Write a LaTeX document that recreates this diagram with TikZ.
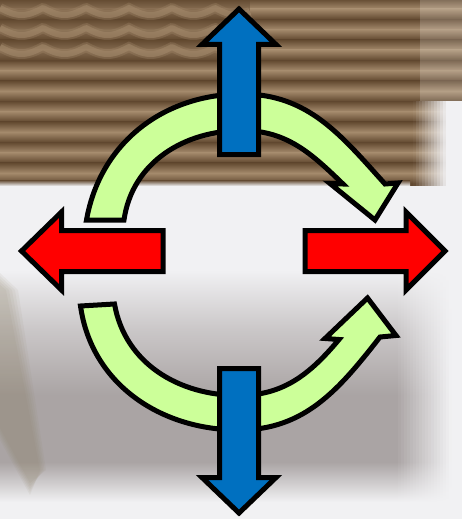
\documentclass[tikz,border=0pt]{standalone}
\usetikzlibrary{calc}
\definecolor{grn}{RGB}{204,255,153}
\definecolor{blu}{RGB}{0,112,192}
\definecolor{rd}{RGB}{255,0,0}
\definecolor{brL}{RGB}{164,138,108}
\definecolor{brD}{RGB}{98,73,48}
\definecolor{bgW}{RGB}{241,241,243}
\definecolor{bgG}{RGB}{170,164,164}
\definecolor{streak}{RGB}{135,122,92}
\begin{document}
\begin{tikzpicture}[x=1pt,y=1pt,
  shapeline/.style={draw=black,line width=5pt,line join=miter,miter limit=20},
  greenarrow/.style={shapeline,fill=grn},
  bluearrow/.style={shapeline,fill=blu},
  redarrow/.style={shapeline,fill=rd}]
\useasboundingbox (0,0) rectangle (462,-519);
% ---------- background: white / grey lower part ----------
\fill[bgW] (0,-180) rectangle (462,-519);
\colorlet{cmid}{bgG!55!bgW}
\shade[top color=bgW,bottom color=cmid] (0,-270) rectangle (396,-330);
\shade[top color=cmid,bottom color=bgG] (0,-330) rectangle (396,-395);
\fill[bgG] (0,-395) rectangle (396,-462);
\shade[top color=bgG,bottom color=bgW] (0,-462) rectangle (396,-502);
\foreach \x in {395,398,...,452} {
  \pgfmathsetmacro\f{max(0,min(100,(450-\x)/55*100))}
  \colorlet{cg}{bgG!\f!bgW}
  \colorlet{cm}{bgG!\f!bgW!55!bgW}
  \shade[top color=bgW,bottom color=cm] (\x,-270) rectangle (\x+3.4,-330);
  \shade[top color=cm,bottom color=cg] (\x,-330) rectangle (\x+3.4,-395);
  \fill[cg] (\x,-395) rectangle (\x+3.4,-462);
  \shade[top color=cg,bottom color=bgW] (\x,-462) rectangle (\x+3.4,-502);
}
% left streak (soft)
\foreach \d in {0,3,6,9,12} {
  \fill[streak,opacity=0.07] (0,-285+\d) -- (6+\d,-290) -- (40+\d/2,-470) -- (30,-495+\d) -- (0,-440+\d) -- cycle;
}
% ---------- background: corrugated brown top ----------
\begin{scope}
  \clip (0,0) rectangle (462,-186);
  \fill[brD] (0,0) rectangle (462,-186);
  \foreach \c in {9,29.5,...,173} {
    \shade[top color=brD,bottom color=brL] (0,-\c+10.25) rectangle (462,-\c);
    \shade[top color=brL,bottom color=brD] (0,-\c) rectangle (462,-\c-10.25);
  }
  % scalloped rows in the upper left
  \fill[brD,opacity=0.45] (0,0) rectangle (250,-62);
  \foreach \r in {10,30,49} {
    \draw[brL,line width=10pt,opacity=0.3,domain=0:250,samples=160]
      plot (\x,{-(\r-2+7*abs(sin(\x/43*180)))});
    \draw[brL,line width=6pt,opacity=0.55,domain=0:250,samples=160]
      plot (\x,{-(\r-2+7*abs(sin(\x/43*180)))});
  }
  % top right: a little lighter
  \fill[white,opacity=0.18] (420,0) rectangle (462,-104);
  % lower right: fades to white
  \foreach \x in {410,413,...,461} {
    \pgfmathsetmacro\g{max(0,min(100,(446-\x)/34*100))}
    \colorlet{cL}{brL!\g!bgW}
    \colorlet{cD}{brD!\g!bgW}
    \fill[cD] (\x,-104) rectangle (\x+3.4,-186);
    \foreach \c in {111.5,132,152.5,173} {
      \shade[top color=cD,bottom color=cL] (\x,-\c+10.25) rectangle (\x+3.4,-\c);
      \shade[top color=cL,bottom color=cD] (\x,-\c) rectangle (\x+3.4,-\c-10.25);
    }
  }
  \shade[top color=brD,bottom color=bgW] (0,-180) rectangle (410,-186);
\end{scope}
% ---------- green curved arrows ----------
\path[greenarrow] (86.5,-220) to[out=80,in=180] (242,-94) to[out=0,in=132] (385,-184)
  -- (398,-183) -- (375,-220) -- (330,-183.5) -- (343,-184)
  to[out=136,in=0] (242,-130.5) to[out=180,in=82] (124,-220) -- cycle;
\path[greenarrow] (80.5,-306) to[out=-82,in=180] (239,-430) to[out=0,in=-128] (380,-337)
  -- (396,-335.5) -- (367.5,-298) -- (325,-338.5) -- (339,-339.5)
  to[out=-130,in=0] (239,-395.5) to[out=180,in=-80] (114.5,-304) -- cycle;
% ---------- blue arrows ----------
\path[bluearrow] (219.5,-154.5) -- (219.5,-44.5) -- (202,-44.5) -- (239,-9)
  -- (276,-44.5) -- (258.5,-44.5) -- (258.5,-154.5) -- cycle;
\path[bluearrow] (219.5,-368.5) -- (219.5,-477.5) -- (202,-477.5) -- (239,-513)
  -- (276,-477.5) -- (258.5,-477.5) -- (258.5,-368.5) -- cycle;
% ---------- red arrows ----------
\path[redarrow] (163,-230.5) -- (61.5,-230.5) -- (61.5,-212) -- (21.5,-251)
  -- (61.5,-290) -- (61.5,-271.5) -- (163,-271.5) -- cycle;
\path[redarrow] (305,-230.5) -- (406,-230.5) -- (406,-212) -- (445,-251)
  -- (406,-290) -- (406,-271.5) -- (305,-271.5) -- cycle;
\end{tikzpicture}
\end{document}
